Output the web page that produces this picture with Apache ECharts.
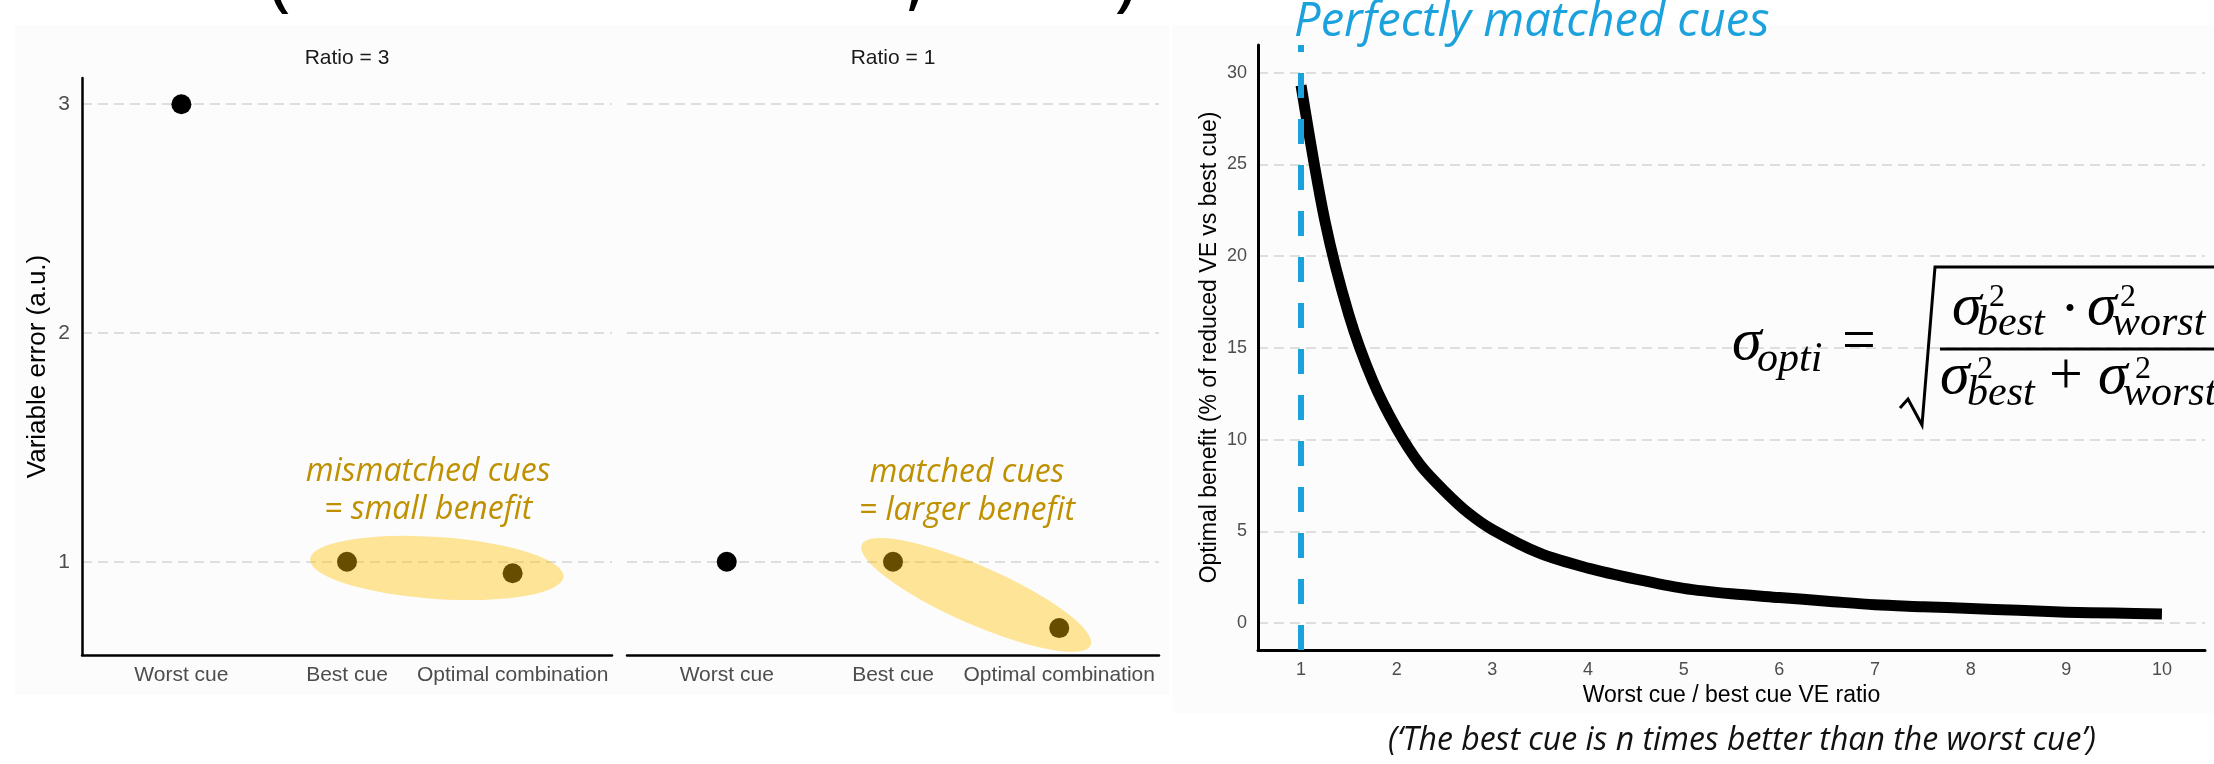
<!DOCTYPE html>
<html><head><meta charset="utf-8">
<script src="https://cdn.jsdelivr.net/npm/echarts@6/dist/echarts.min.js"></script>
<style>html,body{margin:0;padding:0;background:#fff}#c{width:2214px;height:764px}</style>
</head><body><div id="c"></div>
<script>
// ---------- data ----------
const cueCategories = ['Worst cue', 'Best cue', 'Optimal combination'];
const facetTitles = ['Ratio = 3', 'Ratio = 1'];
const errorRatio3 = [3, 1, 0.95];
const errorRatio1 = [1, 1, 0.71];
const errorTicks = [1, 2, 3];
const ratioX = [1, 1.25, 1.5, 1.75, 2, 2.25, 2.5, 2.75, 3, 3.5, 4, 4.5, 5, 5.5, 6, 6.5, 7, 7.5, 8, 8.5, 9, 9.5, 10];
const benefitY = [29.3, 21.9, 16.8, 13.2, 10.6, 8.6, 7.2, 6.0, 5.1, 3.8, 3.0, 2.4, 1.9, 1.6, 1.4, 1.2, 1.0, 0.9, 0.8, 0.7, 0.6, 0.55, 0.5];
const ratioTicks = [1, 2, 3, 4, 5, 6, 7, 8, 9, 10];
const benefitTicks = [0, 5, 10, 15, 20, 25, 30];
const matchedRatio = 1;

// ---------- styles ----------
const SANS = 'Liberation Sans';
const OPEN = 'Open Sans';
const SERIF = 'Liberation Serif';
const GOLD = '#BF9000';
const BLUE = '#1BA1DC';
const GRID_LINE = {show: true, lineStyle: {color: '#dedede', width: 2, type: [10, 6]}};

const chart = echarts.init(document.getElementById('c'), null, {renderer: 'canvas'});

function leftYAxis(gi, showLine) {
  return {
    type: 'value', gridIndex: gi, min: 0.5925, max: 3.1146,
    axisLine: {show: showLine, onZero: false, lineStyle: {color: '#000', width: 2.5}},
    axisTick: {show: false, customValues: errorTicks},
    axisLabel: {show: showLine, customValues: errorTicks, fontSize: 21, fontFamily: SANS, color: '#4d4d4d', margin: 12},
    splitLine: GRID_LINE,
    name: showLine ? 'Variable error (a.u.)' : '', nameLocation: 'middle', nameGap: 31,
    nameTextStyle: {fontSize: 26, fontFamily: SANS, color: '#000'}
  };
}
function leftXAxis(gi) {
  return {
    type: 'value', gridIndex: gi, min: -0.6, max: 2.6,
    axisLine: {show: true, onZero: false, lineStyle: {color: '#000', width: 2.5}},
    axisTick: {show: false, customValues: [0, 1, 2]},
    axisLabel: {customValues: [0, 1, 2], formatter: v => cueCategories[Math.round(v)],
      fontSize: 21, fontFamily: SANS, color: '#4d4d4d', margin: 10},
    splitLine: {show: false}
  };
}

const option = {
  animation: false,
  backgroundColor: '#ffffff',
  grid: [
    {left: 82, top: 78, width: 530, height: 577, outerBoundsMode: 'none', containLabel: false},
    {left: 627, top: 78, width: 532, height: 577, outerBoundsMode: 'none', containLabel: false},
    {left: 1258, top: 45, width: 947, height: 605, outerBoundsMode: 'none', containLabel: false}
  ],
  xAxis: [
    leftXAxis(0), leftXAxis(1),
    {
      type: 'value', gridIndex: 2, min: 0.55, max: 10.45,
      axisLine: {show: true, onZero: false, lineStyle: {color: '#000', width: 3}},
      axisTick: {show: false, customValues: ratioTicks},
      axisLabel: {customValues: ratioTicks, fontSize: 18, fontFamily: SANS, color: '#4d4d4d', margin: 11},
      splitLine: {show: false},
      name: 'Worst cue / best cue VE ratio', nameLocation: 'middle', nameGap: 33,
      nameTextStyle: {fontSize: 23, fontFamily: SANS, color: '#000'}
    }
  ],
  yAxis: [
    leftYAxis(0, true), leftYAxis(1, false),
    {
      type: 'value', gridIndex: 2, min: -1.46, max: 31.5,
      axisLine: {show: true, onZero: false, lineStyle: {color: '#000', width: 3}},
      axisTick: {show: false, customValues: benefitTicks},
      axisLabel: {customValues: benefitTicks, fontSize: 18, fontFamily: SANS, color: '#4d4d4d', margin: 11},
      splitLine: GRID_LINE,
      name: 'Optimal benefit (% of reduced VE vs best cue)', nameLocation: 'middle', nameGap: 37,
      nameTextStyle: {fontSize: 23, fontFamily: SANS, color: '#000'}
    }
  ],
  series: [
    {type: 'scatter', xAxisIndex: 0, yAxisIndex: 0, symbolSize: 20, itemStyle: {color: '#000', opacity: 1},
      data: errorRatio3.map((v, i) => [i, v]), silent: true},
    {type: 'scatter', xAxisIndex: 1, yAxisIndex: 1, symbolSize: 20, itemStyle: {color: '#000', opacity: 1},
      data: errorRatio1.map((v, i) => [i, v]), silent: true},
    {type: 'line', xAxisIndex: 2, yAxisIndex: 2, showSymbol: false, symbol: 'none',
      smooth: 0.3,
      lineStyle: {color: '#000', width: 11, cap: 'butt', join: 'round'},
      data: ratioX.map((x, i) => [x, benefitY[i]]), silent: true,
      markLine: {silent: true, symbol: ['none', 'none'], label: {show: false},
        lineStyle: {color: BLUE, width: 6, type: [25, 21]},
        emphasis: {disabled: true},
        data: [{xAxis: matchedRatio}]}
    }
  ]
};
chart.setOption(option);

// ---------- annotations (positioned from the axes) ----------
function px(gi, x, y) { return chart.convertToPixel({gridIndex: gi}, [x, y]); }
const K = {serif: 0.3375, open: 0.388, sans: 0.3465};
function txt(x, baseline, s, size, family, k, extra) {
  return {
    type: 'text', x: x, y: baseline - k * size, z: 100,
    style: Object.assign({text: s, fontSize: size, fontFamily: family, fill: '#000',
      align: 'left', verticalAlign: 'middle'}, extra || {})
  };
}

const g = [];
// faint panel backgrounds
g.push({type: 'rect', z: -10, shape: {x: 15, y: 25, width: 1155, height: 670}, style: {fill: '#fcfcfc'}});
g.push({type: 'rect', z: -10, shape: {x: 1172, y: 25, width: 1042, height: 688}, style: {fill: '#fcfcfc'}});

// facet strip titles
const facetSeries = [errorRatio3, errorRatio1];
facetTitles.forEach((t, i) => {
  const c = px(i, 1, 1);
  g.push({type: 'text', x: c[0], y: 58, z: 100,
    style: {text: t, fontSize: 21, fontFamily: SANS, fill: '#1a1a1a', align: 'center', verticalAlign: 'middle'}});
});

// highlight ellipses around best cue / optimal combination
const ellipses = [{gi: 0, a: 127, b: 31, shift: 7, tilt: 0}, {gi: 1, a: 125, b: 29, shift: 0, tilt: 2}];
ellipses.forEach(e => {
  const d = facetSeries[e.gi];
  const p1 = px(e.gi, 1, d[1]);
  const p2 = px(e.gi, 2, d[2]);
  const ang = Math.atan2(p2[1] - p1[1], p2[0] - p1[0]) + e.tilt * Math.PI / 180;
  const cx = (p1[0] + p2[0]) / 2 + e.shift * Math.cos(ang);
  const cy = (p1[1] + p2[1]) / 2 + e.shift * Math.sin(ang);
  g.push({type: 'group', x: cx, y: cy, rotation: -ang, z: 50, children: [
    {type: 'circle', z: 50, shape: {cx: 0, cy: 0, r: e.a}, scaleY: e.b / e.a,
      style: {fill: 'rgba(255,192,0,0.4)'}}
  ]});
});

// golden notes
const notes = [{gi: 0, x: 1.49, y: 1.312, text: 'mismatched cues\n= small benefit'},
               {gi: 1, x: 1.445, y: 1.305, text: 'matched cues\n= larger benefit'}];
notes.forEach(n => {
  const p = px(n.gi, n.x, n.y);
  g.push({type: 'text', x: p[0], y: p[1], z: 100,
    style: {text: n.text, fontSize: 32, fontFamily: OPEN, fontStyle: 'italic', fill: GOLD,
      align: 'center', verticalAlign: 'middle', lineHeight: 38}});
});

// "Perfectly matched cues"
const pm = px(2, matchedRatio, 0);
g.push({type: 'text', x: pm[0] - 7, y: 23, z: 100,
  style: {text: 'Perfectly matched cues', fontSize: 47, fontFamily: OPEN, fontStyle: 'italic', fill: BLUE,
    align: 'left', verticalAlign: 'middle'}});

// subtitle under right chart
g.push({type: 'text', x: 1742, y: 741, z: 100,
  style: {text: '(\u2018The best cue is n times better than the worst cue\u2019)', fontSize: 32,
    fontFamily: OPEN, fontStyle: 'italic', fill: '#111', align: 'center', verticalAlign: 'middle'}});

// cut-off heading glyphs at the very top
[['(', 279], [',', 916], [')', 1126]].forEach(([s, x]) => {
  g.push({type: 'text', x: x, y: -22, z: 100,
    style: {text: s, fontSize: 80, fontFamily: OPEN, fill: '#000', align: 'center', verticalAlign: 'middle'}});
});

// formula: sigma_opti = sqrt( s2best * s2worst / (s2best + s2worst) )
const IT = {fontStyle: 'italic'};
g.push(txt(1732, 363, '\u03C3', 60, SERIF, K.serif, IT));
g.push(txt(1757, 374, 'opti', 42, SERIF, K.serif, IT));
g.push(txt(1842, 363, '=', 60, SERIF, K.serif));
g.push({type: 'polyline', z: 100, shape: {points: [[1900, 408], [1908, 399], [1922, 425], [1935, 267], [2230, 267]]},
  style: {stroke: '#000', lineWidth: 3, fill: null}});
g.push({type: 'line', z: 100, shape: {x1: 1940, y1: 349, x2: 2230, y2: 349}, style: {stroke: '#000', lineWidth: 3}});
// numerator
g.push(txt(1952, 328, '\u03C3', 60, SERIF, K.serif, IT));
g.push(txt(1989, 308, '2', 32, SERIF, K.serif));
g.push(txt(1977, 338, 'best', 42, SERIF, K.serif, IT));
g.push(txt(2060, 331, '\u00B7', 60, SERIF, K.serif));
g.push(txt(2087, 328, '\u03C3', 60, SERIF, K.serif, IT));
g.push(txt(2120, 308, '2', 32, SERIF, K.serif));
g.push(txt(2112, 338, 'worst', 42, SERIF, K.serif, IT));
// denominator
g.push(txt(1940, 397, '\u03C3', 60, SERIF, K.serif, IT));
g.push(txt(1977, 380, '2', 32, SERIF, K.serif));
g.push(txt(1967, 408, 'best', 42, SERIF, K.serif, IT));
g.push(txt(2049, 397, '+', 60, SERIF, K.serif));
g.push(txt(2098, 397, '\u03C3', 60, SERIF, K.serif, IT));
g.push(txt(2135, 380, '2', 32, SERIF, K.serif));
g.push(txt(2123, 408, 'worst', 42, SERIF, K.serif, IT));

chart.setOption({graphic: g});
</script>
</body></html>
